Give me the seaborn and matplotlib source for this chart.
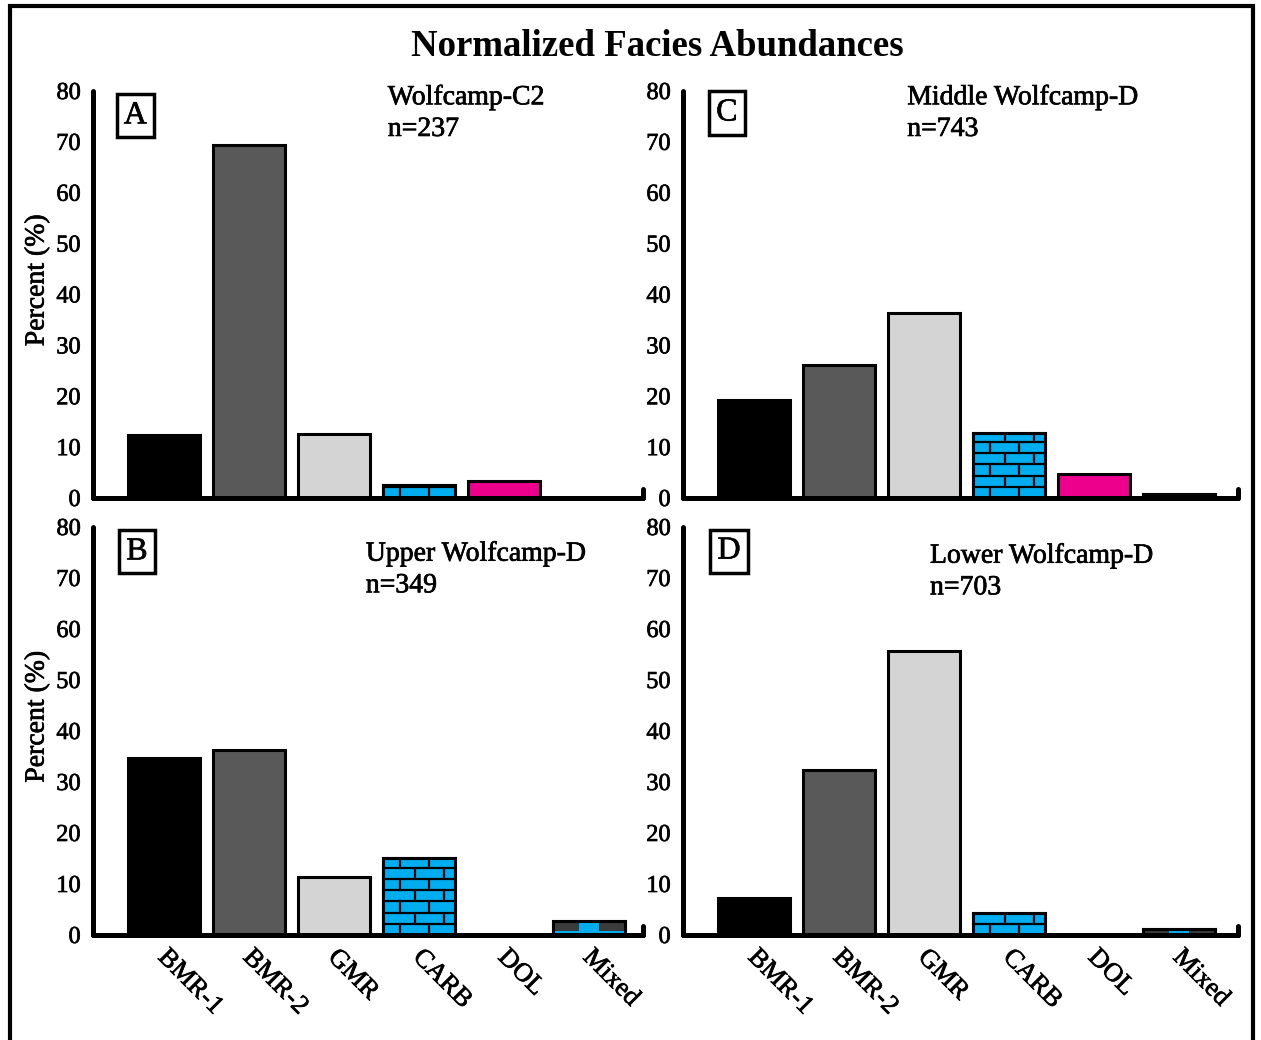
import numpy as np
import pandas as pd
import matplotlib
matplotlib.use("Agg")
import matplotlib.pyplot as plt
import matplotlib.patheffects as pe
import seaborn as sns
from matplotlib.patches import Rectangle
from matplotlib.lines import Line2D

# Facies categories and their fill colours
facies = ["BMR-1", "BMR-2", "GMR", "CARB", "DOL", "Mixed"]
facies_colors = ["#000000", "#595959", "#d4d4d4", "#00aeef", "#ec008c", "#3b3b3b"]

# Normalized abundance (%) for each interval
wolfcamp_c2 = [12.4, 69.4, 12.6, 2.5, 3.3, 0.0]
middle_wolfcamp_d = [19.3, 26.1, 36.3, 12.8, 4.7, 0.7]
upper_wolfcamp_d = [34.7, 36.3, 11.4, 15.1, 0.0, 2.7]
lower_wolfcamp_d = [7.3, 32.4, 55.7, 4.3, 0.0, 1.2]

panel_letters = ["A", "C", "B", "D"]
interval_names = ["Wolfcamp-C2", "Middle Wolfcamp-D", "Upper Wolfcamp-D", "Lower Wolfcamp-D"]
sample_counts = [237, 743, 349, 703]
y_ticks = [0, 10, 20, 30, 40, 50, 60, 70, 80]

sns.set_theme(style="white")
plt.rcParams["font.family"] = ["Liberation Serif", "DejaVu Serif"]
plt.rcParams["text.color"] = "black"
plt.rcParams["xtick.color"] = "black"
plt.rcParams["ytick.color"] = "black"
plt.rcParams["axes.labelcolor"] = "black"

# slightly heavier strokes for all lettering
HEAVY = [pe.withStroke(linewidth=0.5, foreground="black")]

W, H = 1261, 1040
fig = plt.figure(figsize=(W / 100, H / 100), dpi=100)

# (left, bottom, right, top) in pixels for A, C, B, D
boxes_px = [(93, 498, 643, 91), (683, 498, 1238, 91),
            (93, 935, 643, 527), (683, 935, 1238, 527)]
datasets = [wolfcamp_c2, middle_wolfcamp_d, upper_wolfcamp_d, lower_wolfcamp_d]
letter_pos = [(0.077, 0.939), (0.079, 0.946), (0.080, 0.939), (0.083, 0.941)]
note_pos = [(0.536, 1.014), (0.404, 1.014), (0.496, 0.964), (0.445, 0.959)]

EDGE = 2.2
LABEL_NUDGE = 0.06  # rotated category labels start just right of the bar centre


def brick_fill(ax, patch, row_h=2.2, brick_w=0.34, color="black", lw=1.6):
    x0, w, h = patch.get_x(), patch.get_width(), patch.get_height()
    if h <= 0:
        return
    k = 1
    while k * row_h < h:
        ln = Line2D([x0, x0 + w], [k * row_h, k * row_h], color=color, lw=lw,
                    zorder=patch.get_zorder() + 0.1)
        ln.set_clip_path(patch)
        ax.add_line(ln)
        k += 1
    for r in range(k):
        y0, y1 = r * row_h, min((r + 1) * row_h, h)
        off = 0.0 if r % 2 == 0 else brick_w / 2
        xs = np.arange(x0 + off + brick_w * 0.6, x0 + w, brick_w)
        for xv in xs:
            ln = Line2D([xv, xv], [y0, y1], color=color, lw=lw,
                        zorder=patch.get_zorder() + 0.1)
            ln.set_clip_path(patch)
            ax.add_line(ln)
    ax.add_patch(Rectangle((x0, 0), w, h, fill=False, ec="black", lw=EDGE,
                           zorder=patch.get_zorder() + 0.2))


def mixed_fill(ax, patch):
    x0, w, h = patch.get_x(), patch.get_width(), patch.get_height()
    if h <= 0:
        return
    z = patch.get_zorder()
    pieces = [Rectangle((x0, 0.12 * h), w, 0.2 * h, color="#00aeef", lw=0),
              Rectangle((x0 + 0.36 * w, 0.3 * h), 0.28 * w, 0.55 * h, color="#00aeef", lw=0)]
    for p in pieces:
        p.set_zorder(z + 0.1)
        ax.add_patch(p)
        p.set_clip_path(patch)
    ax.add_patch(Rectangle((x0, 0), w, h, fill=False, ec="black", lw=EDGE, zorder=z + 0.2))


for i, (vals, (l, b, r, t)) in enumerate(zip(datasets, boxes_px)):
    ax = fig.add_axes([l / W, 1 - b / H, (r - l) / W, (b - t) / H])
    df = pd.DataFrame({"facies": facies, "percent": vals})
    sns.barplot(data=df, x="facies", y="percent", hue="facies", order=facies,
                hue_order=facies, palette=facies_colors, legend=False,
                width=0.85, edgecolor="black", linewidth=EDGE, saturation=1,
                ax=ax, zorder=3)
    for cont, name in zip(ax.containers, facies):
        for patch in cont.patches:
            if name == "CARB":
                brick_fill(ax, patch)
            elif name == "Mixed":
                mixed_fill(ax, patch)

    px_per_unit = 85.0
    ax.set_xlim(-71 / px_per_unit, (r - l - 71) / px_per_unit)
    ax.set_ylim(0, 80)
    ax.set_yticks(y_ticks)
    ax.set_yticklabels([str(v) for v in y_ticks], fontsize=17.5)
    ax.tick_params(axis="y", direction="in", length=5, width=3.5, pad=9)
    ax.tick_params(axis="x", length=0)
    for s in ["top", "right"]:
        ax.spines[s].set_visible(False)
    for s in ["left", "bottom"]:
        ax.spines[s].set_linewidth(3.6)
        ax.spines[s].set_color("black")
        ax.spines[s].set_capstyle("round")
        ax.spines[s].set_zorder(5)
    ax.set_facecolor("none")
    ax.add_line(Line2D([1, 1], [0, 0.022], transform=ax.transAxes, lw=3.6,
                       color="black", solid_capstyle="round", clip_on=False, zorder=6))

    ax.set_xlabel("")
    if i >= 2:
        ax.set_xticks([k + LABEL_NUDGE for k in range(len(facies))])
        ax.set_xticklabels(facies, fontsize=19, rotation=-45, ha="left", va="top",
                           rotation_mode="anchor")
        for lab in ax.get_xticklabels():
            lab.set_path_effects(HEAVY)
        ax.tick_params(axis="x", pad=8)
    else:
        ax.set_xticks(range(len(facies)))
        ax.tick_params(axis="x", labelbottom=False)
    ax.set_xlim(-71 / px_per_unit, (r - l - 71) / px_per_unit)
    for lab in ax.get_yticklabels():
        lab.set_path_effects(HEAVY)

    if i in (0, 2):
        ax.set_ylabel("Percent (%)", fontsize=20)
        ax.yaxis.set_label_coords(-0.079, 0.535)
        ax.yaxis.label.set_path_effects(HEAVY)
    else:
        ax.set_ylabel("")

    lx, ly = letter_pos[i]
    ax.text(lx, ly, panel_letters[i], transform=ax.transAxes, ha="center", va="center",
            fontsize=23, bbox=dict(boxstyle="square,pad=0.22", fc="white", ec="black", lw=2.5),
            zorder=7, path_effects=HEAVY)
    nx, ny = note_pos[i]
    ax.text(nx, ny, f"{interval_names[i]}\nn={sample_counts[i]}", transform=ax.transAxes,
            ha="left", va="top", fontsize=20, linespacing=1.35, zorder=7, path_effects=HEAVY)

fig.text(657 / W, 1 - 46 / H, "Normalized Facies Abundances", ha="center", va="center",
         fontsize=26.5, fontweight="bold")

fig.add_artist(Rectangle((10 / W, -0.02), (1253 - 10) / W, 1 - 6 / H + 0.02,
                         transform=fig.transFigure, fill=False, ec="black", lw=3))

fig.savefig("out.png", dpi=100)
